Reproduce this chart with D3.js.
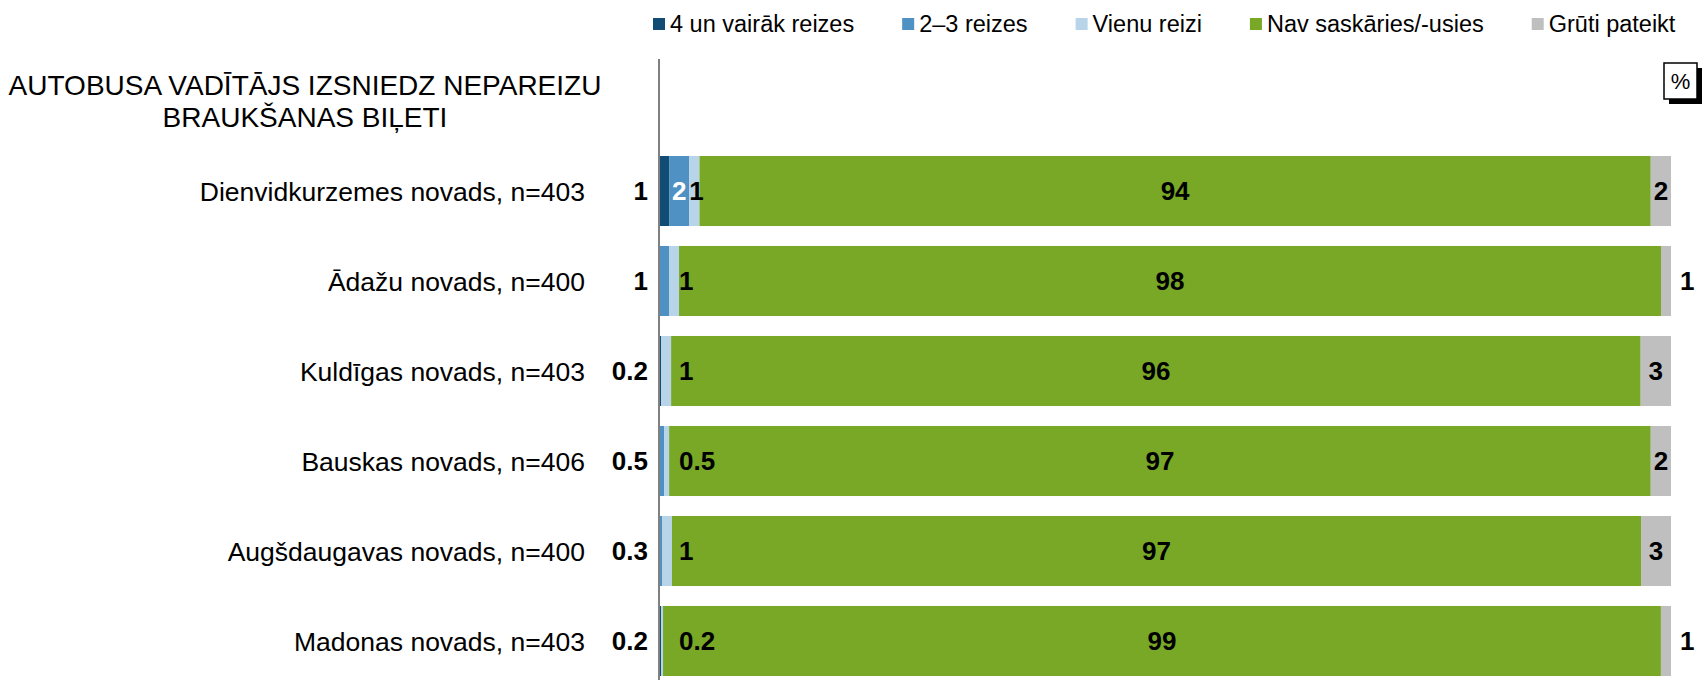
<!DOCTYPE html>
<html>
<head>
<meta charset="utf-8">
<script src="https://cdn.jsdelivr.net/npm/d3@7"></script>
<style>
  body { margin: 0; background: #fff; }
  text { font-family: "Liberation Sans", Arial, sans-serif; }
</style>
</head>
<body>
<div id="chart"></div>
<script>
// Data
const categories = [
    "Dienvidkurzemes novads, n=403",
    "Ādažu novads, n=400",
    "Kuldīgas novads, n=403",
    "Bauskas novads, n=406",
    "Augšdaugavas novads, n=400",
    "Madonas novads, n=403"
];
const seriesNames = ["4 un vairāk reizes", "2–3 reizes", "Vienu reizi", "Nav saskāries/-usies", "Grūti pateikt"];
const fourPlus = [1, 0, 0.2, 0, 0, 0.2];
const twoThree = [2, 1, 0, 0.5, 0.3, 0];
const once = [1, 1, 1, 0.5, 1, 0.2];
const never = [94, 98, 96, 97, 97, 99];
const hardToSay = [2, 1, 3, 2, 3, 1];
const colors = ["#124c74", "#4f91c3", "#b8d4e9", "#79a826", "#bfbfbf"];
const titleLines = ["AUTOBUSA VADĪTĀJS IZSNIEDZ NEPAREIZU", "BRAUKŠANAS BIĻETI"];

const width = 1705, height = 680;
const x0 = 659, x1 = 1671;

const rows = categories.map((c, i) => ({
    cat: c, s0: fourPlus[i], s1: twoThree[i], s2: once[i], s3: never[i], s4: hardToSay[i]
}));
const keys = ["s0", "s1", "s2", "s3", "s4"];

const svg = d3.select("#chart").append("svg")
    .attr("width", width)
    .attr("height", height);

const x = d3.scaleLinear().domain([0, 1]).range([x0, x1]);
const y = d3.scaleBand().domain(categories).range([146, 686])
    .paddingInner(0.222).paddingOuter(0.111);

// 100% stacked, like the original
const stacked = d3.stack().keys(keys).offset(d3.stackOffsetExpand)(rows);
const fmt = v => v < 1 ? d3.format(".1f")(v) : d3.format(".0f")(v);

// Bars
const layer = svg.selectAll(".layer")
    .data(stacked)
    .enter().append("g")
    .attr("class", "layer")
    .attr("fill", (d, i) => colors[i]);

layer.selectAll("rect")
    .data(d => d)
    .enter().append("rect")
    .attr("x", d => x(d[0]))
    .attr("y", d => y(d.data.cat))
    .attr("width", d => x(d[1]) - x(d[0]))
    .attr("height", y.bandwidth());

// Axis line
svg.append("line")
    .attr("x1", x0).attr("x2", x0)
    .attr("y1", 59).attr("y2", height)
    .attr("stroke", "#808080")
    .attr("stroke-width", 2);

// Category labels
svg.selectAll(".cat")
    .data(categories)
    .enter().append("text")
    .attr("class", "cat")
    .attr("x", 585)
    .attr("y", d => y(d) + y.bandwidth() / 2)
    .attr("dy", "0.36em")
    .attr("text-anchor", "end")
    .style("font-size", "26.5px")
    .attr("fill", "#000")
    .text(d => d);

// Data labels
const labels = [];
stacked.forEach((s, k) => {
    s.forEach(d => {
        const v = d.data[keys[k]];
        if (v <= 0) return;
        const a = x(d[0]), b = x(d[1]);
        const cy = y(d.data.cat) + y.bandwidth() / 2;
        let lx, anchor = "middle", fill = "#000";
        if (k === 0 || (k === 1 && d.data.s0 === 0)) {
            lx = x0 - 11; anchor = "end";
        } else if (k === 1) {
            lx = (a + b) / 2; fill = "#fff";
        } else if (k === 2) {
            lx = Math.max(a, x0 + 20); anchor = "start";
        } else if (k === 3) {
            lx = (a + b) / 2;
        } else {
            if (v >= 2) { lx = (a + b) / 2; }
            else { lx = b + 9; anchor = "start"; }
        }
        labels.push({x: lx, y: cy, anchor: anchor, fill: fill, text: fmt(v)});
    });
});

svg.selectAll(".lbl")
    .data(labels)
    .enter().append("text")
    .attr("class", "lbl")
    .attr("x", d => d.x)
    .attr("y", d => d.y)
    .attr("dy", "0.36em")
    .attr("text-anchor", d => d.anchor)
    .attr("fill", d => d.fill)
    .style("font-size", "26px")
    .style("font-weight", "bold")
    .text(d => d.text);

// Title
svg.selectAll(".title")
    .data(titleLines)
    .enter().append("text")
    .attr("class", "title")
    .attr("x", 305)
    .attr("y", (d, i) => 95 + i * 32)
    .attr("text-anchor", "middle")
    .style("font-size", "28px")
    .text(d => d);

// Legend
const legend = svg.append("g").attr("class", "legend");
let lx = 653;
seriesNames.forEach((name, i) => {
    legend.append("rect")
        .attr("x", lx).attr("y", 18)
        .attr("width", 12).attr("height", 12)
        .attr("fill", colors[i]);
    const t = legend.append("text")
        .attr("x", lx + 17).attr("y", 32)
        .style("font-size", "23.5px")
        .text(name);
    lx += 17 + t.node().getComputedTextLength() + 48;
});

// Percent box
svg.append("rect")
    .attr("x", 1669).attr("y", 68)
    .attr("width", 33).attr("height", 36)
    .attr("fill", "#000");
svg.append("rect")
    .attr("x", 1664).attr("y", 63)
    .attr("width", 33).attr("height", 36)
    .attr("fill", "#fff")
    .attr("stroke", "#000")
    .attr("stroke-width", 1.5);
svg.append("text")
    .attr("x", 1680.5).attr("y", 89)
    .attr("text-anchor", "middle")
    .style("font-size", "22px")
    .text("%");
</script>
</body>
</html>
